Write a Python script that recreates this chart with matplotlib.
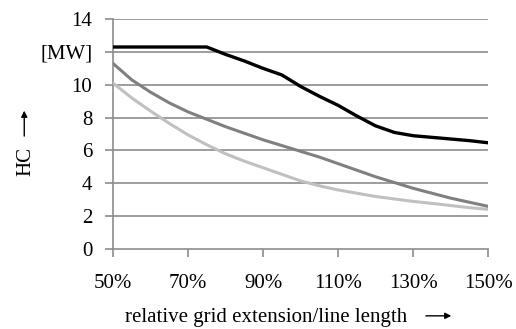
import matplotlib
matplotlib.use("Agg")
import matplotlib.pyplot as plt
from matplotlib.patches import FancyArrowPatch

plt.rcParams['font.family'] = ['Liberation Serif', 'DejaVu Serif']

ext = [50, 55, 60, 65, 70, 75, 80, 85, 90, 95, 100, 105, 110, 115, 120, 125, 130, 135, 140, 145, 150]
hc_black = [12.3, 12.3, 12.3, 12.3, 12.3, 12.3, 11.85, 11.45, 11.0, 10.6, 9.9, 9.3, 8.75, 8.1, 7.5, 7.1, 6.9, 6.8, 6.7, 6.6, 6.47]
hc_dark = [11.3, 10.3, 9.55, 8.9, 8.35, 7.9, 7.45, 7.05, 6.65, 6.3, 5.95, 5.6, 5.2, 4.8, 4.4, 4.05, 3.7, 3.4, 3.1, 2.85, 2.6]
hc_light = [10.1, 9.2, 8.4, 7.65, 6.95, 6.35, 5.8, 5.35, 4.95, 4.55, 4.15, 3.85, 3.6, 3.4, 3.2, 3.05, 2.9, 2.78, 2.65, 2.52, 2.42]

xticks = [50, 70, 90, 110, 130, 150]
xtick_labels = ['50%', '70%', '90%', '110%', '130%', '150%']
yticks = [0, 2, 4, 6, 8, 10, 12, 14]
ytick_labels = ['0', '2', '4', '6', '8', '10', '[MW]', '14']

grid_col = '#8c8c8c'
fs = 15

fig = plt.figure(figsize=(5.16, 3.29), dpi=100)
ax = fig.add_axes([0.219, 0.243, 0.727, 0.699])

for y in yticks[1:]:
    ax.axhline(y, color=grid_col, lw=1.2, zorder=1)

ax.plot(ext, hc_light, color='#c0c0c0', lw=2.2, zorder=3)
ax.plot(ext, hc_dark, color='#808080', lw=2.2, zorder=3)
ax.plot(ext, hc_black, color='black', lw=2.4, zorder=4)

ax.set_xlim(50, 150)
ax.set_ylim(0, 14)
ax.set_xticks(xticks)
ax.set_xticklabels(xtick_labels)
ax.set_yticks(yticks)
ax.set_yticklabels(ytick_labels)
ax.tick_params(axis='both', direction='out', length=6, width=1.2, color=grid_col,
               labelsize=fs)
ax.tick_params(axis='x', pad=12)
ax.tick_params(axis='y', pad=9)

for s in ['top', 'right']:
    ax.spines[s].set_visible(False)
for s in ['left', 'bottom']:
    ax.spines[s].set_color(grid_col)
    ax.spines[s].set_linewidth(1.2)

# axis titles with arrows
fig.text(0.05, 0.508, 'HC', rotation=90, ha='center', va='center', fontsize=fs)
fig.add_artist(FancyArrowPatch((0.047, 0.578), (0.047, 0.672), transform=fig.transFigure,
                               arrowstyle='-|>', mutation_scale=9, color='black', lw=1.0))

fig.text(0.515, 0.036, 'relative grid extension/line length', ha='center', va='center', fontsize=fs)
fig.add_artist(FancyArrowPatch((0.820, 0.040), (0.880, 0.040), transform=fig.transFigure,
                               arrowstyle='-|>', mutation_scale=9, color='black', lw=1.0))

fig.savefig('out.png', dpi=100)
